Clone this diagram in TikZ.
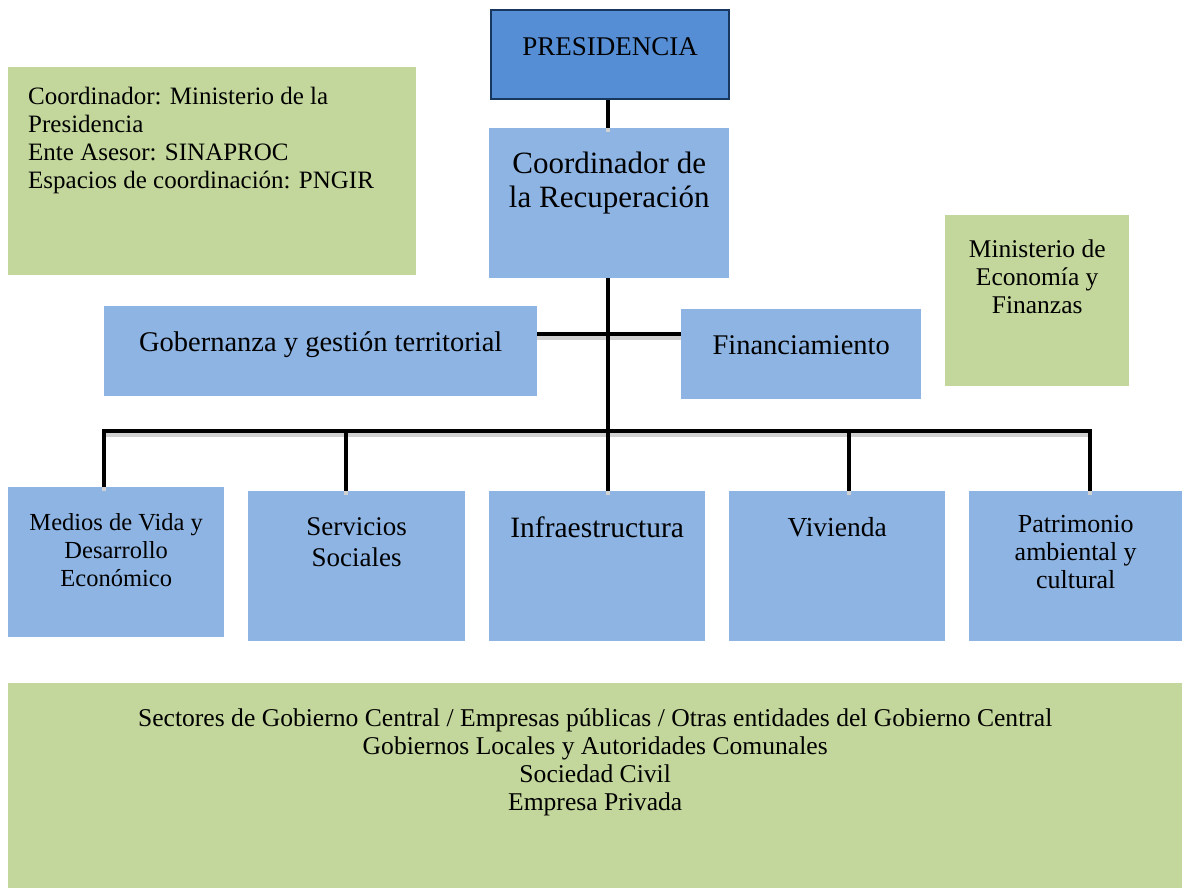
\documentclass[tikz,border=0pt]{standalone}
\usepackage{fontspec}
\setmainfont{Liberation Serif}
\usetikzlibrary{positioning}
\definecolor{presblue}{HTML}{558ED5}
\definecolor{presline}{HTML}{17375E}
\definecolor{areablue}{HTML}{8EB4E3}
\definecolor{notegreen}{HTML}{C3D69B}
\tikzset{
  area/.style={fill=areablue, anchor=north west, inner sep=0pt},
  note/.style={fill=notegreen, anchor=north west, inner sep=0pt},
  txt/.style={inner sep=0pt, align=center, font=\fontsize{28.5}{33}\selectfont},
  small/.style={inner sep=0pt, align=center, font=\fontsize{25}{28}\selectfont},
  link/.style={line width=4pt, preaction={draw=black!18, line width=4pt, transform canvas={yshift=-4pt}}}
}

\begin{document}
\begin{tikzpicture}[x=1pt, y=-1pt]
    \useasboundingbox (0,0) rectangle (1182,888);

    \node[area, fill=presblue, draw=presline, line width=2pt, minimum width=238, minimum height=89] (pres) at (490,9) {};
    \node[area, minimum width=240, minimum height=150] (coord) at (489,128) {};
    \node[note, minimum width=408, minimum height=208] (info) at (8,67) {};
    \node[note, minimum width=184, minimum height=171] (mef) at (945,215) {};
    \node[area, minimum width=433, minimum height=90] (gob) at (104,306) {};
    \node[area, minimum width=240, minimum height=90] (fin) at (681,309) {};

    \node[area, minimum width=216, minimum height=150] (medios) at (8,487) {};
    \node[area, minimum width=217, minimum height=150] (serv) at (248,491) {};
    \node[area, minimum width=216, minimum height=150] (infra) at (489,491) {};
    \node[area, minimum width=216, minimum height=150] (viv) at (729,491) {};
    \node[area, minimum width=213, minimum height=150] (patr) at (969,491) {};

    \node[note, minimum width=1174, minimum height=205] (actores) at (8,683) {};

    % connectors
    \coordinate (split) at (608,334);
    \coordinate (bus) at (608,431);
    \coordinate (d1) at ([xshift=-12pt]medios.north);
    \coordinate (d2) at ([xshift=-11pt]serv.north);
    \coordinate (d4) at ([xshift=12pt]viv.north);
    \coordinate (d5) at ([xshift=14pt]patr.north);

    \draw[link] (pres.south -| split) -- (coord.north -| split);
    \draw[link] (gob.east |- split) -- (fin.west |- split);
    \draw[link] (d1) -- (d1 |- bus) -- (d5 |- bus) -- (d5);
    \draw[link] (coord.south -| split) -- (infra.north -| split);
    \draw[link] (d2 |- bus) -- (d2);
    \draw[link] (d4 |- bus) -- (d4);

    % texts
    \node[txt, font=\fontsize{27}{33}\selectfont, below=28pt of pres.north] {PRESIDENCIA};
    \node[txt, font=\fontsize{31}{34}\selectfont, below=24pt of coord.north] {Coordinador de\\la Recuperación};
    \node[small, align=left, below right=20pt and 20pt of info.north west] {Coordinador: Ministerio de la\\Presidencia\\Ente Asesor: SINAPROC\\Espacios de coordinación: PNGIR};
    \node[small, font=\fontsize{25.5}{28}\selectfont, below=25pt of mef.north] {Ministerio de\\Economía y\\Finanzas};
    \node[txt, below=25pt of gob.north] {Gobernanza y gestión territorial};
    \node[txt, below=26pt of fin.north] {Financiamiento};

    \node[small, font=\fontsize{24.5}{28}\selectfont, below=26pt of medios.north] {Medios de Vida y\\Desarrollo\\Económico};
    \node[txt, font=\fontsize{27}{31}\selectfont, below=26pt of serv.north] {Servicios\\Sociales};
    \node[txt, font=\fontsize{29.5}{33}\selectfont, below=26pt of infra.north] {Infraestructura};
    \node[txt, font=\fontsize{27.5}{33}\selectfont, below=26pt of viv.north] {Vivienda};
    \node[small, font=\fontsize{26}{28}\selectfont, below=24pt of patr.north] {Patrimonio\\ambiental y\\cultural};

    \node[small, font=\fontsize{25.6}{28}\selectfont, below=25pt of actores.north] {Sectores de Gobierno Central / Empresas públicas / Otras entidades del Gobierno Central\\Gobiernos Locales y Autoridades Comunales\\Sociedad Civil\\Empresa Privada};
\end{tikzpicture}
\end{document}
